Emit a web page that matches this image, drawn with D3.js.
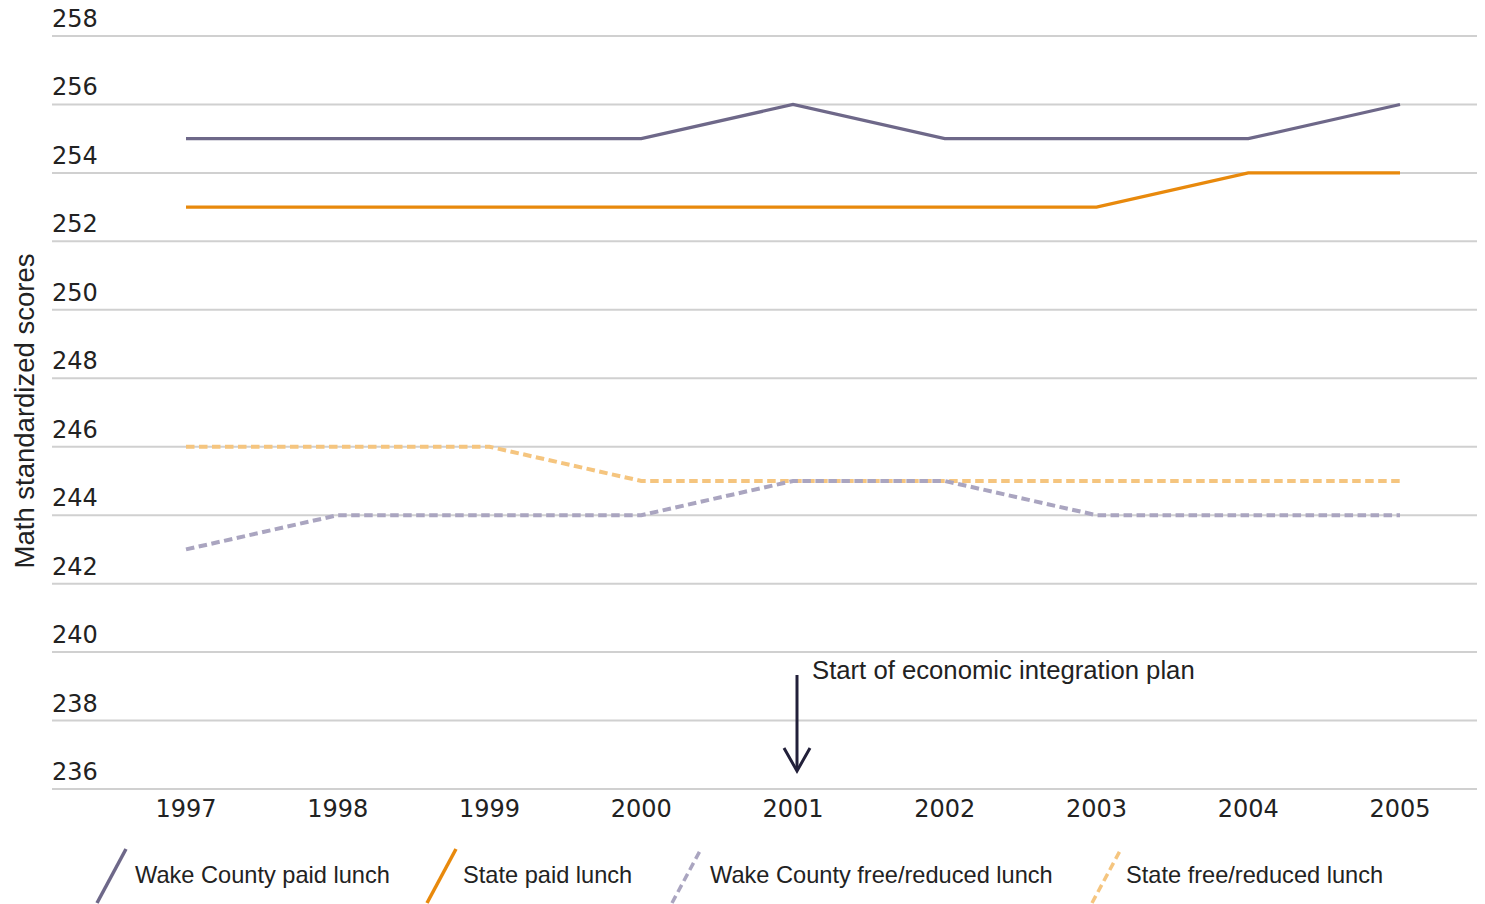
<!DOCTYPE html>
<html><head><meta charset="utf-8">
<script src="https://cdn.jsdelivr.net/npm/d3@7"></script>
<style>
html,body{margin:0;padding:0;background:#fff;}
svg text{font-family:"Liberation Sans",Arial,sans-serif;fill:#222;}
svg text.num{font-family:"DejaVu Sans",sans-serif;}
</style></head>
<body><svg id="chart" width="1485" height="904"></svg>
<script>
const years = [1997,1998,1999,2000,2001,2002,2003,2004,2005];
const wakePaid = [255,255,255,255,256,255,255,255,256];
const statePaid = [253,253,253,253,253,253,253,254,254];
const wakeFree = [243,244,244,244,245,245,244,244,244];
const stateFree = [246,246,246,245,245,245,245,245,245];
const yTicks = [236,238,240,242,244,246,248,250,252,254,256,258];
const seriesNames = ["Wake County paid lunch","State paid lunch","Wake County free/reduced lunch","State free/reduced lunch"];
const seriesColors = ["#6e6889","#e8890c","#aaa5c0","#f5c57f"];
const seriesDashed = [false,false,true,true];
const seriesValues = [wakePaid,statePaid,wakeFree,stateFree];
const annotationText = "Start of economic integration plan";
const annotationYear = 2001;

const svg = d3.select("#chart");
const x = d3.scaleLinear().domain([1997,2005]).range([186,1400]);
const y = d3.scaleLinear().domain([236,258]).range([789,36]);
const gridX0 = 52, gridX1 = 1477;

// gridlines
svg.append("g").selectAll("line").data(yTicks).join("line")
  .attr("x1",gridX0).attr("x2",gridX1)
  .attr("y1",d=>y(d)).attr("y2",d=>y(d))
  .attr("stroke","#d0d0d0").attr("stroke-width",2);

// y labels
svg.append("g").selectAll("text").data(yTicks).join("text")
  .attr("class","num")
  .attr("x",gridX0).attr("y",d=>y(d)-9)
  .style("font-size","24px").text(d=>d);

// x labels
svg.append("g").selectAll("text").data(years).join("text")
  .attr("class","num")
  .attr("x",d=>x(d)).attr("y",817).attr("text-anchor","middle")
  .style("font-size","24px").text(d=>d);

// y title
svg.append("text").attr("transform","translate(34,411) rotate(-90)")
  .attr("text-anchor","middle").style("font-size","27.5px").text("Math standardized scores");

// lines
const line = d3.line().x((d,i)=>x(years[i])).y(d=>y(d));
[3,2,1,0].forEach(k=>{
  svg.append("path").datum(seriesValues[k])
    .attr("d",line).attr("fill","none")
    .attr("stroke",seriesColors[k])
    .attr("stroke-width",seriesDashed[k]?4:3.2)
    .attr("stroke-dasharray",seriesDashed[k]?"8.5,4.5":null);
});

// annotation arrow
const ax = x(annotationYear)+4;
svg.append("line").attr("x1",ax).attr("x2",ax).attr("y1",675).attr("y2",770)
  .attr("stroke","#22203a").attr("stroke-width",3);
svg.append("path").attr("d",`M${ax-13},${748} L${ax},${771} L${ax+13},${748}`)
  .attr("fill","none").attr("stroke","#22203a").attr("stroke-width",3);
svg.append("text").attr("x",ax+15).attr("y",679).style("font-size","25.7px").text(annotationText);

// legend
const legX = [97,427,672,1092];
const legTextX = [135,463,710,1126];
const legG = svg.append("g");
seriesNames.forEach((n,k)=>{
  legG.append("line").attr("x1",legX[k]).attr("y1",903).attr("x2",legX[k]+29).attr("y2",849)
    .attr("stroke",seriesColors[k]).attr("stroke-width",3.5)
    .attr("stroke-dasharray",seriesDashed[k]?"8,4.5":null);
  legG.append("text").attr("x",legTextX[k]).attr("y",883).style("font-size","23.6px").text(n);
});
</script></body></html>
